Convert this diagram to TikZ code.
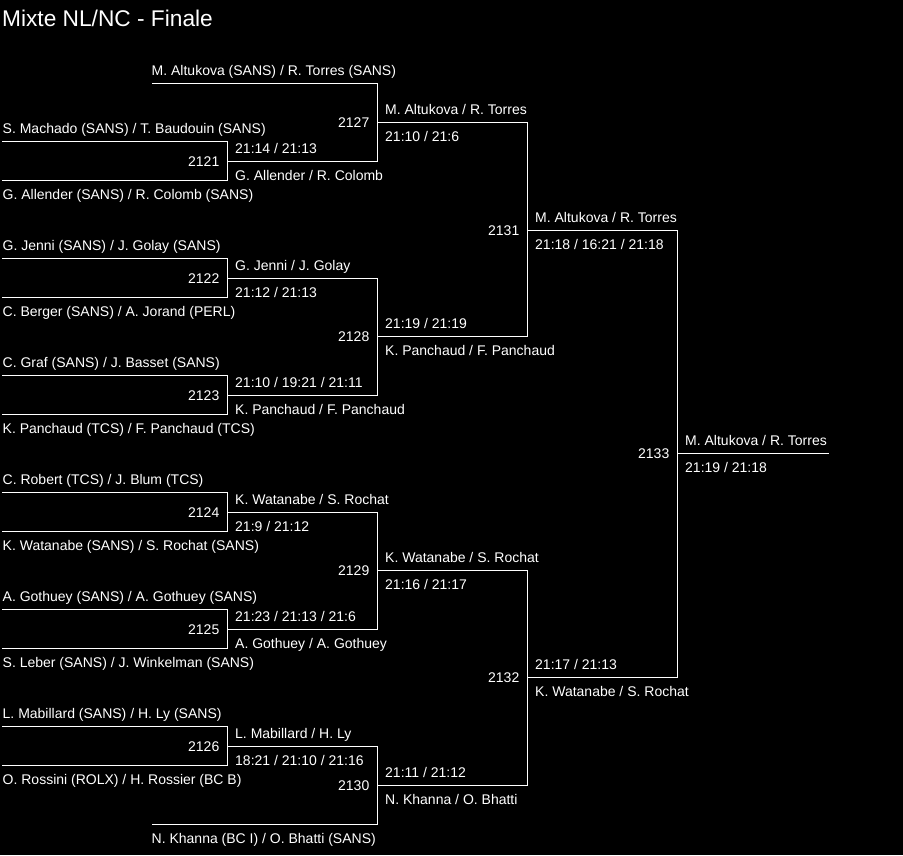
\documentclass[tikz,border=0pt]{standalone}
\usepackage{fontspec}
\setmainfont{Liberation Sans}
\begin{document}
\begin{tikzpicture}[x=1pt,y=-1pt,
  ln/.style={draw=white,line width=1pt},
  lab/.style={text=white,inner sep=0pt,anchor=base west,font=\fontsize{14}{16}\selectfont},
  num/.style={text=white,inner sep=0pt,anchor=east,font=\fontsize{14}{16}\selectfont},
  ttl/.style={text=white,inner sep=0pt,anchor=base west,font=\fontsize{22.7}{26}\selectfont}]
\fill[black] (0,0) rectangle (903,855);
\useasboundingbox (0,0) rectangle (903,855);
% ---------- coordinates ----------
% round 1
\coordinate (e1t) at (2,141.5); \coordinate (v1t) at (227.5,141.5);
\coordinate (e1b) at (2,180.5); \coordinate (v1b) at (227.5,180.5); \coordinate (o1) at (227.5,161.5);
\coordinate (e2t) at (2,258.5); \coordinate (v2t) at (227.5,258.5);
\coordinate (e2b) at (2,297.5); \coordinate (v2b) at (227.5,297.5); \coordinate (o2) at (227.5,278.5);
\coordinate (e3t) at (2,375.5); \coordinate (v3t) at (227.5,375.5);
\coordinate (e3b) at (2,414.5); \coordinate (v3b) at (227.5,414.5); \coordinate (o3) at (227.5,395.5);
\coordinate (e4t) at (2,492.5); \coordinate (v4t) at (227.5,492.5);
\coordinate (e4b) at (2,531.5); \coordinate (v4b) at (227.5,531.5); \coordinate (o4) at (227.5,512.5);
\coordinate (e5t) at (2,609.5); \coordinate (v5t) at (227.5,609.5);
\coordinate (e5b) at (2,648.5); \coordinate (v5b) at (227.5,648.5); \coordinate (o5) at (227.5,629.5);
\coordinate (e6t) at (2,726.5); \coordinate (v6t) at (227.5,726.5);
\coordinate (e6b) at (2,765.5); \coordinate (v6b) at (227.5,765.5); \coordinate (o6) at (227.5,746.5);
% round 2
\coordinate (b7) at (152,83.5); \coordinate (v7t) at (377.5,83.5);
\coordinate (v7b) at (377.5,161.5); \coordinate (o7) at (377.5,122.5);
\coordinate (v8t) at (377.5,278.5); \coordinate (v8b) at (377.5,395.5); \coordinate (o8) at (377.5,336.5);
\coordinate (v9t) at (377.5,512.5); \coordinate (v9b) at (377.5,629.5); \coordinate (o9) at (377.5,570.5);
\coordinate (v10t) at (377.5,746.5); \coordinate (v10b) at (377.5,824.5); \coordinate (o10) at (377.5,785.5);
\coordinate (b10) at (152,824.5);
% round 3
\coordinate (v11t) at (527.5,122.5); \coordinate (v11b) at (527.5,336.5); \coordinate (o11) at (527.5,230.5);
\coordinate (v12t) at (527.5,570.5); \coordinate (v12b) at (527.5,785.5); \coordinate (o12) at (527.5,677.5);
% final
\coordinate (v13t) at (677.5,230.5); \coordinate (v13b) at (677.5,677.5); \coordinate (o13) at (677.5,453.5);
\coordinate (fin) at (828.5,453.5);
% ---------- lines ----------
\draw[ln] (e1t) -- (v1t) -- (v1b) -- (e1b);
\draw[ln] (e2t) -- (v2t) -- (v2b) -- (e2b);
\draw[ln] (e3t) -- (v3t) -- (v3b) -- (e3b);
\draw[ln] (e4t) -- (v4t) -- (v4b) -- (e4b);
\draw[ln] (e5t) -- (v5t) -- (v5b) -- (e5b);
\draw[ln] (e6t) -- (v6t) -- (v6b) -- (e6b);
\draw[ln] (o1) -- (v7b);
\draw[ln] (o2) -- (v8t);
\draw[ln] (o3) -- (v8b);
\draw[ln] (o4) -- (v9t);
\draw[ln] (o5) -- (v9b);
\draw[ln] (o6) -- (v10t);
\draw[ln] (b7) -- (v7t) -- (v7b);
\draw[ln] (b10) -- (v10b) -- (v10t);
\draw[ln] (v8t) -- (v8b);
\draw[ln] (v9t) -- (v9b);
\draw[ln] (o7) -- (v11t) -- (v11b) -- (o8);
\draw[ln] (o9) -- (v12t) -- (v12b) -- (o10);
\draw[ln] (o11) -- (v13t) -- (v13b) -- (o12);
\draw[ln] (o13) -- (fin);
% ---------- title ----------
\node[ttl] (title) at (2,26) {Mixte NL/NC - Finale};
% ---------- entries ----------
\node[lab] (p7a) at (151.5,75.5) {M. Altukova (SANS) / R. Torres (SANS)};
\node[lab] (p1a) at (2.5,133.5) {S. Machado (SANS) / T. Baudouin (SANS)};
\node[lab] (p1b) at (2.5,199.5) {G. Allender (SANS) / R. Colomb (SANS)};
\node[lab] (p2a) at (2.5,250.5) {G. Jenni (SANS) / J. Golay (SANS)};
\node[lab] (p2b) at (2.5,316.5) {C. Berger (SANS) / A. Jorand (PERL)};
\node[lab] (p3a) at (2.5,367.5) {C. Graf (SANS) / J. Basset (SANS)};
\node[lab] (p3b) at (2.5,433.5) {K. Panchaud (TCS) / F. Panchaud (TCS)};
\node[lab] (p4a) at (2.5,484.5) {C. Robert (TCS) / J. Blum (TCS)};
\node[lab] (p4b) at (2.5,550.5) {K. Watanabe (SANS) / S. Rochat (SANS)};
\node[lab] (p5a) at (2.5,601.5) {A. Gothuey (SANS) / A. Gothuey (SANS)};
\node[lab] (p5b) at (2.5,667.5) {S. Leber (SANS) / J. Winkelman (SANS)};
\node[lab] (p6a) at (2.5,718.5) {L. Mabillard (SANS) / H. Ly (SANS)};
\node[lab] (p6b) at (2.5,784.5) {O. Rossini (ROLX) / H. Rossier (BC B)};
\node[lab] (p10b) at (151.5,843.5) {N. Khanna (BC I) / O. Bhatti (SANS)};
% ---------- match numbers ----------
\node[num] (n2121) at ([xshift=-8pt]o1) {2121};
\node[num] (n2122) at ([xshift=-8pt]o2) {2122};
\node[num] (n2123) at ([xshift=-8pt]o3) {2123};
\node[num] (n2124) at ([xshift=-8pt]o4) {2124};
\node[num] (n2125) at ([xshift=-8pt]o5) {2125};
\node[num] (n2126) at ([xshift=-8pt]o6) {2126};
\node[num] (n2127) at ([xshift=-8pt]o7) {2127};
\node[num] (n2128) at ([xshift=-8pt]o8) {2128};
\node[num] (n2129) at ([xshift=-8pt]o9) {2129};
\node[num] (n2130) at ([xshift=-8pt]o10) {2130};
\node[num] (n2131) at ([xshift=-8pt]o11) {2131};
\node[num] (n2132) at ([xshift=-8pt]o12) {2132};
\node[num] (n2133) at ([xshift=-8pt]o13) {2133};
% ---------- results round 1 ----------
\node[lab] (s1) at (235,153.5) {21:14 / 21:13};
\node[lab] (w1) at (235,180.5) {G. Allender / R. Colomb};
\node[lab] (w2) at (235,270.5) {G. Jenni / J. Golay};
\node[lab] (s2) at (235,297.5) {21:12 / 21:13};
\node[lab] (s3) at (235,387.5) {21:10 / 19:21 / 21:11};
\node[lab] (w3) at (235,414.5) {K. Panchaud / F. Panchaud};
\node[lab] (w4) at (235,504.5) {K. Watanabe / S. Rochat};
\node[lab] (s4) at (235,531.5) {21:9 / 21:12};
\node[lab] (s5) at (235,621.5) {21:23 / 21:13 / 21:6};
\node[lab] (w5) at (235,648.5) {A. Gothuey / A. Gothuey};
\node[lab] (w6) at (235,738.5) {L. Mabillard / H. Ly};
\node[lab] (s6) at (235,765.5) {18:21 / 21:10 / 21:16};
% ---------- results round 2 ----------
\node[lab] (w7) at (385,114.5) {M. Altukova / R. Torres};
\node[lab] (s7) at (385,141.5) {21:10 / 21:6};
\node[lab] (s8) at (385,328.5) {21:19 / 21:19};
\node[lab] (w8) at (385,355.5) {K. Panchaud / F. Panchaud};
\node[lab] (w9) at (385,562.5) {K. Watanabe / S. Rochat};
\node[lab] (s9) at (385,589.5) {21:16 / 21:17};
\node[lab] (s10) at (385,777.5) {21:11 / 21:12};
\node[lab] (w10) at (385,804.5) {N. Khanna / O. Bhatti};
% ---------- results round 3 ----------
\node[lab] (w11) at (535,222.5) {M. Altukova / R. Torres};
\node[lab] (s11) at (535,249.5) {21:18 / 16:21 / 21:18};
\node[lab] (s12) at (535,669.5) {21:17 / 21:13};
\node[lab] (w12) at (535,696.5) {K. Watanabe / S. Rochat};
% ---------- final ----------
\node[lab] (w13) at (685,445.5) {M. Altukova / R. Torres};
\node[lab] (s13) at (685,472.5) {21:19 / 21:18};
\end{tikzpicture}
\end{document}
